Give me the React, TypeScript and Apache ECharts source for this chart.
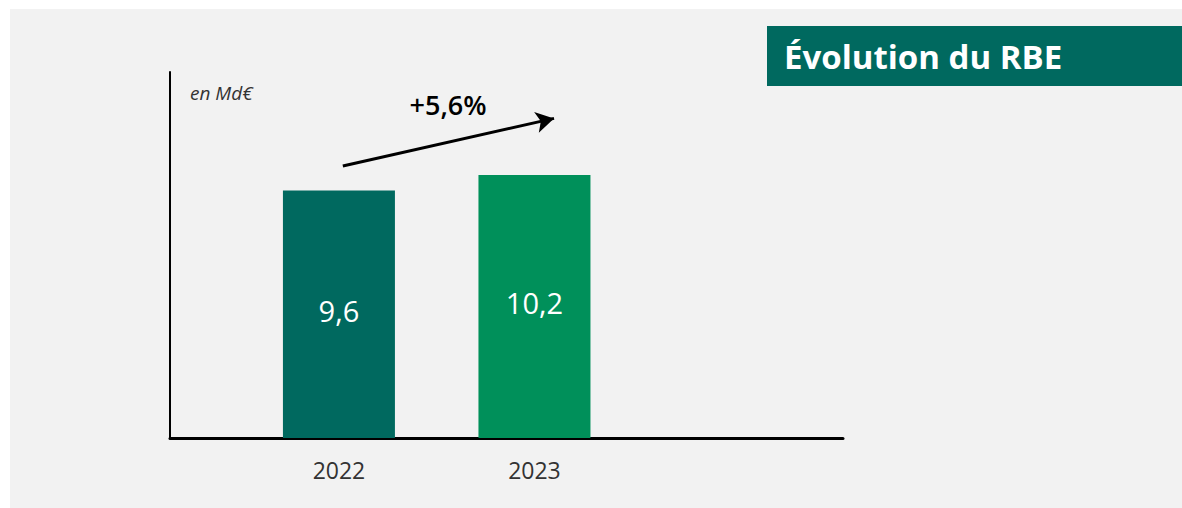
import React, { useEffect, useRef } from "react";
import * as echarts from "echarts";

const years = [2022, 2023];
const rbeValues = [9.6, 10.2];
const barColors = ["#00695f", "#00905a"];
const unitLabel = "en Md€";
const growthLabel = "+5,6%";
const titleText = "Évolution du RBE";
const arrowStart = [2022.02, 10.55];
const arrowEnd = [2023.1, 12.4];

export default function App() {
  const ref = useRef<HTMLDivElement>(null);
  useEffect(() => {
    if (!ref.current) return;
    const chart = echarts.init(ref.current, null, { renderer: "svg" });
    const font = "'Open Sans', 'Noto Sans', sans-serif";
    chart.setOption({
      animation: false,
      backgroundColor: "#ffffff",
      grid: { left: 170, right: 339, top: 72, bottom: 70 },
      xAxis: {
        type: "value",
        min: 2021.136,
        max: 2024.578,
        splitLine: { show: false },
        axisTick: { show: false },
        axisLine: { show: true, onZero: false, lineStyle: { color: "#000", width: 3 } },
        axisLabel: {
          customValues: years,
          formatter: (v: number) => String(v),
          color: "#333",
          fontSize: 23,
          fontFamily: font,
          margin: 20,
        },
      },
      yAxis: {
        type: "value",
        min: 0,
        max: 14.2,
        splitLine: { show: false },
        axisTick: { show: false },
        axisLabel: { show: false },
        axisLine: { show: true, lineStyle: { color: "#000", width: 2 } },
      },
      series: [
        {
          type: "bar",
          barWidth: 112,
          data: years.map((y, i) => ({
            value: [y, rbeValues[i]],
            itemStyle: { color: barColors[i] },
          })),
          label: {
            show: true,
            position: "inside",
            offset: [0, -4],
            color: "#fff",
            fontSize: 29,
            fontFamily: font,
            formatter: (p: any) => String(p.value[1]).replace(".", ","),
          },
          markLine: {
            silent: true,
            symbol: ["none", "arrow"],
            symbolSize: [16, 18],
            label: { show: false },
            lineStyle: { color: "#000", width: 3, type: "solid" },
            data: [[{ coord: arrowStart }, { coord: arrowEnd }]],
          },
        },
      ],
      graphic: [
        {
          type: "rect",
          z: -100,
          shape: { x: 10, y: 9, width: 1172, height: 499 },
          style: { fill: "#f2f2f2" },
        },
        {
          type: "rect",
          shape: { x: 767, y: 26, width: 415, height: 60 },
          style: { fill: "#00695f" },
        },
        {
          type: "text",
          x: 784,
          y: 56,
          style: {
            text: titleText,
            fill: "#fff",
            fontSize: 33,
            fontWeight: "bold",
            fontFamily: font,
            verticalAlign: "middle",
          },
        },
        {
          type: "text",
          x: 190,
          y: 93,
          style: {
            text: unitLabel,
            fill: "#333",
            fontSize: 19,
            fontStyle: "italic",
            fontFamily: font,
            verticalAlign: "middle",
          },
        },
        {
          type: "text",
          x: 448,
          y: 104,
          style: {
            text: growthLabel,
            fill: "#000",
            fontSize: 27,
            fontWeight: 600,
            fontFamily: font,
            align: "center",
            verticalAlign: "middle",
          },
        },
      ],
    });
    return () => chart.dispose();
  }, []);
  return (
    <div
      ref={ref}
      style={{ position: "fixed", left: 0, top: 0, width: 1182, height: 508 }}
    />
  );
}
